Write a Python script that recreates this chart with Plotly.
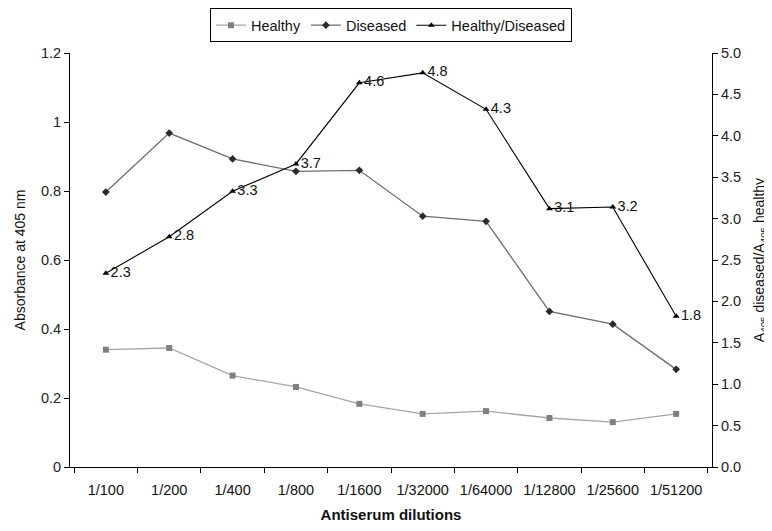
import plotly.graph_objects as go

dilutions = ["1/100", "1/200", "1/400", "1/800", "1/1600", "1/32000", "1/64000", "1/12800", "1/25600", "1/51200"]
healthy = [0.34, 0.345, 0.265, 0.232, 0.183, 0.154, 0.162, 0.142, 0.130, 0.154]
diseased = [0.797, 0.968, 0.893, 0.857, 0.860, 0.727, 0.712, 0.451, 0.414, 0.283]
ratio = [2.34, 2.78, 3.33, 3.66, 4.64, 4.76, 4.32, 3.12, 3.14, 1.82]
ratio_labels = ["2.3", "2.8", "3.3", "3.7", "4.6", "4.8", "4.3", "3.1", "3.2", "1.8"]

font = "Liberation Sans, Arial, sans-serif"

fig = go.Figure()
fig.add_trace(go.Scatter(
    x=dilutions, y=healthy, name="Healthy", mode="lines+markers",
    line=dict(color="#a6a6a6", width=1.3),
    marker=dict(symbol="square", size=6, color="#808080"),
))
fig.add_trace(go.Scatter(
    x=dilutions, y=diseased, name="Diseased", mode="lines+markers",
    line=dict(color="#6e6e6e", width=1.3),
    marker=dict(symbol="diamond", size=6, color="#2b2b2b"),
))
fig.add_trace(go.Scatter(
    x=dilutions, y=ratio, name="Healthy/Diseased", mode="lines+markers+text",
    yaxis="y2",
    line=dict(color="#000000", width=1.1),
    marker=dict(symbol="triangle-up", size=6, color="#000000"),
    text=ratio_labels, textposition="middle right",
    textfont=dict(family=font, size=14.5, color="#111111"),
    cliponaxis=False,
))

fig.update_layout(
    width=772, height=531,
    margin=dict(l=62, r=68, t=45, b=72, autoexpand=False),
    paper_bgcolor="white", plot_bgcolor="white",
    font=dict(family=font, size=14, color="#222222"),
    showlegend=True,
    legend=dict(
        orientation="h", x=0.5, xanchor="center", y=1.108, yanchor="top",
        bordercolor="#000000", borderwidth=1, bgcolor="white",
        font=dict(family=font, size=14.5, color="#111111"),
        itemwidth=30, tracegroupgap=0,
    ),
    xaxis=dict(
        type="category", tickson="boundaries",
        showline=True, linecolor="#000000", linewidth=1,
        ticks="outside", ticklen=5, tickcolor="#000000",
        ticklabelstandoff=10,
        showgrid=False, zeroline=False,
        tickfont=dict(family=font, size=14.5, color="#111111"),
        title=dict(text="<b>Antiserum dilutions</b>", font=dict(family=font, size=15, color="#111111"), standoff=12),
    ),
    yaxis=dict(
        range=[0, 1.2], dtick=0.2,
        showline=True, linecolor="#000000", linewidth=1,
        ticks="outside", ticklen=5, tickcolor="#000000",
        showgrid=False, zeroline=False,
        tickfont=dict(family=font, size=14.5, color="#222222"),
        title=dict(text="Absorbance at 405 nm", font=dict(family=font, size=14, color="#111111"), standoff=12),
    ),
    yaxis2=dict(
        overlaying="y", side="right", range=[0, 5], dtick=0.5, tickformat=".1f",
        showline=True, linecolor="#000000", linewidth=1,
        ticks="outside", ticklen=5, tickcolor="#000000",
        showgrid=False, zeroline=False,
        tickfont=dict(family=font, size=14.5, color="#222222"),
        title=dict(text="A<sub>405</sub> diseased/A<sub>405</sub> healthy", font=dict(family=font, size=14, color="#111111"), standoff=14),
    ),
)

fig.write_html("out.html")
